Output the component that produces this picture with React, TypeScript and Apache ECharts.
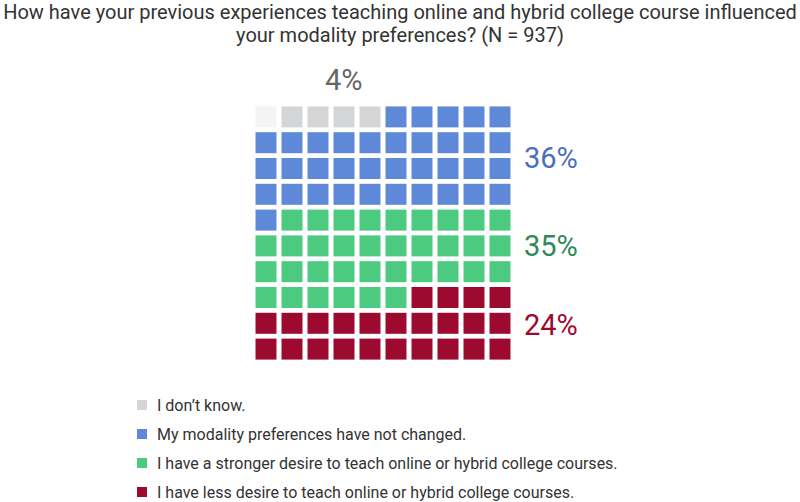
import { useEffect, useRef } from 'react';
import * as echarts from 'echarts';

// ---------------------------------------------------------------------------
// Data
// ---------------------------------------------------------------------------

const TITLE =
  'How have your previous experiences teaching online and hybrid college course influenced\nyour modality preferences? (N = 937)';

const categories = [
  '',
  'I don’t know.',
  'My modality preferences have not changed.',
  'I have a stronger desire to teach online or hybrid college courses.',
  'I have less desire to teach online or hybrid college courses.',
];
const cellCounts = [1, 4, 36, 35, 24];
const percentLabels = ['', '4%', '36%', '35%', '24%'];
const cellColors = ['#f4f4f4', '#d4d5d7', '#5e88d8', '#4bca80', '#9c0a30'];
const labelColors = ['#ffffff', '#666666', '#4a6fbf', '#2e8a57', '#9c0a30'];

const COLS = 10;
const ROWS = 10;
const colTicks = Array.from({ length: COLS }, (_, i) => String(i));
const rowTicks = Array.from({ length: ROWS }, (_, i) => String(i));

const FONT = 'Roboto, "Liberation Sans", sans-serif';

// ---------------------------------------------------------------------------
// Option
// ---------------------------------------------------------------------------

function buildCells(): number[][][] {
  const out: number[][][] = categories.map(() => []);
  let idx = 0;
  cellCounts.forEach((count, c) => {
    for (let k = 0; k < count; k++) {
      out[c].push([idx % COLS, Math.floor(idx / COLS)]);
      idx++;
    }
  });
  return out;
}

function buildOption(): echarts.EChartsOption {
  const cells = buildCells();
  return {
    animation: false,
    textStyle: { fontFamily: FONT },
    title: {
      text: TITLE,
      left: 'center',
      top: -5,
      textStyle: { fontSize: 20, fontWeight: 'normal', color: '#333333', lineHeight: 23, fontFamily: FONT },
    },
    legend: {
      orient: 'vertical',
      left: 132,
      top: 392,
      height: 110,
      itemWidth: 10,
      itemHeight: 10,
      itemGap: 13,
      icon: 'rect',
      data: categories.slice(1),
      textStyle: { fontSize: 16, color: '#333333', fontFamily: FONT, padding: [0, 0, 0, 5] },
    },
    grid: { left: 253, top: 104, width: 260, height: 258 },
    xAxis: {
      type: 'category',
      data: colTicks,
      show: false,
    },
    yAxis: {
      type: 'category',
      data: rowTicks,
      inverse: true,
      show: false,
    },
    series: categories.map((name, i) => ({
      name: name || 'remainder',
      type: 'scatter',
      symbol: 'rect',
      symbolSize: 21,
      itemStyle: { color: cellColors[i], opacity: 1 },
      data: cells[i],
    })),
    graphic: [
      { type: 'text', left: 325, top: 65, style: { text: percentLabels[1], fontSize: 29, fill: labelColors[1], fontFamily: FONT } },
      { type: 'text', left: 524, top: 143, style: { text: percentLabels[2], fontSize: 29, fill: labelColors[2], fontFamily: FONT } },
      { type: 'text', left: 524, top: 231, style: { text: percentLabels[3], fontSize: 29, fill: labelColors[3], fontFamily: FONT } },
      { type: 'text', left: 524, top: 310, style: { text: percentLabels[4], fontSize: 29, fill: labelColors[4], fontFamily: FONT } },
    ],
  };
}

// ---------------------------------------------------------------------------
// Component
// ---------------------------------------------------------------------------

export default function App() {
  const containerRef = useRef<HTMLDivElement | null>(null);

  useEffect(() => {
    if (!containerRef.current) return;
    const chart = echarts.init(containerRef.current, null, { renderer: 'svg' });
    chart.setOption(buildOption());
    return () => chart.dispose();
  }, []);

  return (
    <div
      ref={containerRef}
      style={{ width: 800, height: 502, position: 'absolute', left: 0, top: 0, background: '#ffffff' }}
    />
  );
}
